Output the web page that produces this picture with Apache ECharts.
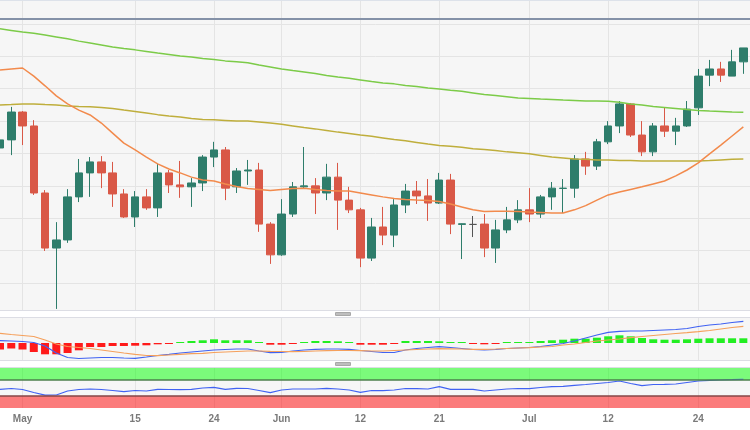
<!DOCTYPE html>
<html>
<head>
<meta charset="utf-8">
<title>Daily chart</title>
<script src="https://cdn.jsdelivr.net/npm/echarts@6/dist/echarts.min.js"></script>
<style>
  html, body { margin: 0; padding: 0; background: #fff; overflow: hidden; }
  #chart { width: 750px; height: 430px; }
</style>
</head>
<body>
<div id="chart"></div>
<script>
// trading days (last one is an empty slot on the right edge)
const dates = [
  '2023-04-27', '2023-04-28',
  '2023-05-01', '2023-05-02', '2023-05-03', '2023-05-04', '2023-05-05',
  '2023-05-08', '2023-05-09', '2023-05-10', '2023-05-11', '2023-05-12',
  '2023-05-15', '2023-05-16', '2023-05-17', '2023-05-18', '2023-05-19',
  '2023-05-22', '2023-05-23', '2023-05-24', '2023-05-25', '2023-05-26',
  '2023-05-29', '2023-05-30', '2023-05-31', '2023-06-01', '2023-06-02',
  '2023-06-05', '2023-06-06', '2023-06-07', '2023-06-08', '2023-06-09',
  '2023-06-12', '2023-06-13', '2023-06-14', '2023-06-15', '2023-06-16',
  '2023-06-19', '2023-06-20', '2023-06-21', '2023-06-22', '2023-06-23',
  '2023-06-26', '2023-06-27', '2023-06-28', '2023-06-29', '2023-06-30',
  '2023-07-03', '2023-07-04', '2023-07-05', '2023-07-06', '2023-07-07',
  '2023-07-10', '2023-07-11', '2023-07-12', '2023-07-13', '2023-07-14',
  '2023-07-17', '2023-07-18', '2023-07-19', '2023-07-20', '2023-07-21',
  '2023-07-24', '2023-07-25', '2023-07-26', '2023-07-27', '2023-07-28',
  '2023-07-31'
]

const tickDates = ['2023-05-01', '2023-05-15', '2023-05-24', '2023-06-01', '2023-06-12',
  '2023-06-21', '2023-07-03', '2023-07-12', '2023-07-24']
const tickLabels = ['May', '15', '24', 'Jun', '12', '21', 'Jul', '12', '24']

// [open, close, low, high]
const candles = [
  [105.17, 105.42, 105.02, 105.66], [105.42, 106.28, 104.95, 106.44],
  [106.28, 105.85, 105.26, 106.31], [105.85, 103.78, 103.72, 106.03],
  [103.78, 102.08, 101.99, 103.87], [102.08, 102.33, 100.20, 102.88],
  [102.33, 103.66, 102.24, 103.90], [103.66, 104.40, 103.50, 104.83],
  [104.40, 104.74, 103.66, 104.89], [104.74, 104.40, 103.93, 104.92],
  [104.40, 103.75, 103.35, 104.74], [103.75, 103.04, 103.01, 103.90],
  [103.04, 103.66, 102.73, 103.84], [103.66, 103.32, 103.26, 103.90],
  [103.32, 104.40, 103.04, 104.68], [104.40, 104.03, 103.78, 104.49],
  [104.03, 103.97, 103.63, 104.77], [103.97, 104.09, 103.35, 104.24],
  [104.09, 104.89, 103.84, 104.95], [104.89, 105.11, 104.58, 105.36],
  [105.11, 103.93, 103.56, 105.20], [103.97, 104.46, 103.78, 104.55],
  [104.46, 104.49, 104.03, 104.80], [104.49, 102.82, 102.58, 104.71],
  [102.82, 101.87, 101.59, 102.88], [101.87, 103.13, 101.84, 103.59],
  [103.13, 103.97, 103.04, 104.12], [103.97, 104.00, 103.93, 105.20],
  [104.00, 103.78, 103.13, 104.24], [103.78, 104.27, 103.56, 104.68],
  [104.27, 103.56, 102.64, 104.71], [103.56, 103.26, 103.16, 103.97],
  [103.26, 101.77, 101.49, 103.32], [101.77, 102.73, 101.68, 103.01],
  [102.73, 102.48, 102.17, 103.35], [102.48, 103.41, 102.11, 103.59],
  [103.41, 103.84, 103.16, 104.06], [103.84, 103.69, 103.44, 104.15],
  [103.69, 103.47, 102.92, 104.21], [103.47, 104.18, 103.44, 104.40],
  [104.18, 102.82, 102.51, 104.37], [102.81, 102.83, 101.74, 102.84],
  [102.81, 102.81, 102.42, 103.07], [102.82, 102.08, 101.80, 103.13],
  [102.08, 102.64, 101.62, 102.95], [102.64, 102.95, 102.54, 103.35],
  [102.95, 103.26, 102.85, 103.56], [103.26, 103.13, 102.88, 103.93],
  [103.13, 103.66, 103.01, 103.72], [103.66, 103.93, 103.26, 104.12],
  [103.92, 103.93, 103.16, 104.21], [103.93, 104.83, 103.63, 104.95],
  [104.83, 104.61, 104.34, 105.05], [104.61, 105.36, 104.49, 105.45],
  [105.36, 105.85, 105.29, 106.00], [105.85, 106.53, 105.63, 106.62],
  [106.53, 105.57, 105.51, 106.56], [105.57, 105.05, 104.92, 106.00],
  [105.05, 105.85, 104.92, 105.94], [105.85, 105.69, 105.51, 106.41],
  [105.69, 105.85, 105.26, 106.10], [105.85, 106.37, 105.82, 106.62],
  [106.41, 107.39, 106.19, 107.61], [107.42, 107.61, 107.08, 107.89],
  [107.61, 107.42, 107.21, 107.83], [107.39, 107.83, 107.39, 108.20],
  [107.83, 108.26, 107.46, 108.26]
]

const sma20 = [
  107.58, 107.61, 107.64, 107.39, 107.09, 106.78, 106.53, 106.34, 106.19, 105.94,
  105.63, 105.32, 105.11, 104.89, 104.68, 104.52, 104.40, 104.27, 104.18, 104.15,
  104.06, 103.98, 103.92, 103.89, 103.86, 103.89, 103.92, 103.93, 103.89, 103.86,
  103.84, 103.84, 103.78, 103.72, 103.66, 103.61, 103.58, 103.56, 103.55, 103.52,
  103.44, 103.35, 103.26, 103.21, 103.22, 103.22, 103.21, 103.19, 103.18, 103.16,
  103.16, 103.26, 103.39, 103.56, 103.72, 103.81, 103.89, 103.97, 104.06, 104.15,
  104.31, 104.49, 104.71, 104.99, 105.26, 105.54, 105.82
]

const sma100 = [
  106.50, 106.51, 106.53, 106.53, 106.51, 106.50, 106.47, 106.45, 106.44, 106.42,
  106.39, 106.34, 106.30, 106.25, 106.20, 106.16, 106.13, 106.08, 106.05, 106.04,
  106.02, 106.00, 106.00, 105.97, 105.94, 105.90, 105.85, 105.80, 105.76, 105.71,
  105.66, 105.62, 105.57, 105.53, 105.48, 105.43, 105.39, 105.34, 105.29, 105.25,
  105.22, 105.19, 105.15, 105.12, 105.09, 105.05, 105.02, 104.99, 104.94, 104.89,
  104.86, 104.83, 104.82, 104.80, 104.80, 104.78, 104.78, 104.77, 104.77, 104.77,
  104.77, 104.77, 104.77, 104.78, 104.80, 104.82, 104.83
]

const sma200 = [
  108.85, 108.80, 108.75, 108.71, 108.66, 108.60, 108.54, 108.47, 108.41, 108.35,
  108.29, 108.24, 108.20, 108.15, 108.10, 108.06, 108.01, 107.98, 107.93, 107.90,
  107.86, 107.83, 107.80, 107.73, 107.67, 107.61, 107.56, 107.52, 107.47, 107.41,
  107.36, 107.32, 107.27, 107.22, 107.18, 107.15, 107.10, 107.07, 107.02, 106.99,
  106.95, 106.92, 106.87, 106.82, 106.79, 106.75, 106.71, 106.70, 106.68, 106.67,
  106.65, 106.64, 106.62, 106.62, 106.61, 106.58, 106.53, 106.50, 106.45, 106.42,
  106.39, 106.36, 106.33, 106.31, 106.30, 106.28, 106.27
]

const alertLevel = 109.17
const priceMin = 100
const priceMax = 109.74

const macdLine = [
  0.023, 0.020, 0.015, 0.005, -0.030, -0.100, -0.145, -0.155, -0.150, -0.145,
  -0.145, -0.150, -0.153, -0.140, -0.125, -0.113, -0.100, -0.090, -0.080, -0.070,
  -0.065, -0.060, -0.060, -0.080, -0.097, -0.095, -0.080, -0.070, -0.063, -0.060,
  -0.060, -0.063, -0.075, -0.085, -0.095, -0.095, -0.070, -0.055, -0.045, -0.037,
  -0.045, -0.055, -0.065, -0.070, -0.065, -0.055, -0.050, -0.045, -0.035, -0.020,
  -0.005, 0.020, 0.050, 0.080, 0.107, 0.117, 0.120, 0.120, 0.125, 0.130,
  0.135, 0.145, 0.165, 0.180, 0.190, 0.205, 0.217
]

const signalLine = [
  0.097, 0.085, 0.075, 0.065, 0.030, -0.010, -0.035, -0.045, -0.055, -0.070,
  -0.085, -0.100, -0.113, -0.125, -0.127, -0.120, -0.113, -0.107, -0.103, -0.095,
  -0.090, -0.085, -0.080, -0.080, -0.083, -0.085, -0.087, -0.085, -0.080, -0.077,
  -0.075, -0.075, -0.077, -0.080, -0.080, -0.075, -0.070, -0.065, -0.060, -0.057,
  -0.058, -0.060, -0.063, -0.063, -0.060, -0.055, -0.050, -0.047, -0.040, -0.035,
  -0.020, -0.010, 0.005, 0.020, 0.030, 0.040, 0.053, 0.065, 0.075, 0.085,
  0.095, 0.103, 0.113, 0.125, 0.140, 0.155, 0.167
]

const macdHist = [
  -0.065, -0.055, -0.065, -0.090, -0.113, -0.113, -0.100, -0.073, -0.040, -0.040,
  -0.030, -0.030, -0.027, -0.023, -0.013, -0.003, 0.010, 0.020, 0.027, 0.037,
  0.027, 0.027, 0.027, 0.010, -0.017, -0.017, -0.003, 0.010, 0.020, 0.020,
  0.017, 0.010, -0.017, -0.017, -0.017, -0.003, 0.020, 0.020, 0.020, 0.017,
  0.010, 0.002, -0.003, -0.013, -0.007, 0.000, 0.003, 0.010, 0.020, 0.027,
  0.033, 0.043, 0.043, 0.053, 0.067, 0.077, 0.067, 0.050, 0.037, 0.033,
  0.033, 0.037, 0.043, 0.047, 0.047, 0.047, 0.047
]

const rsi = [
  46.75, 48.75, 46.25, 38.75, 32.0, 32.5, 42.5, 46.25, 47.5, 46.25,
  43.75, 40.75, 43.75, 42.5, 46.75, 46.25, 45.75, 46.75, 50.0, 51.75,
  46.75, 49.25, 48.75, 43.75, 38.25, 45.0, 47.5, 47.5, 47.5, 49.25,
  47.5, 45.0, 39.25, 43.75, 43.25, 45.0, 48.75, 48.25, 47.5, 53.25,
  46.75, 46.75, 46.75, 42.5, 45.0, 47.5, 48.75, 48.25, 51.25, 53.25,
  54.25, 56.75, 58.75, 61.25, 63.75, 67.5, 61.25, 55.75, 58.75, 59.25,
  60.0, 63.75, 67.5, 69.25, 70.0, 70.75, 71.75
]

const upColor = '#2e7d6b'
const downColor = '#d95847'
const panelBg = '#f6f6f6'
const gridColor = '#e4e4e4'

const isTick = (index, value) => tickDates.includes(value)

const chart = echarts.init(document.getElementById('chart'))

const hiddenX = (gridIndex) => ({
  type: 'category',
  gridIndex,
  data: dates,
  boundaryGap: false,
  axisLine: { show: false },
  axisTick: { show: false, interval: isTick },
  axisLabel: { show: false },
  splitLine: { show: true, interval: isTick, lineStyle: { color: gridColor, width: 1 } }
})

const lineSeries = (name, data, color, width, xi, yi) => ({
  name,
  type: 'line',
  data,
  xAxisIndex: xi,
  yAxisIndex: yi,
  symbol: 'none',
  silent: true,
  lineStyle: { color, width }
})

// the plot runs a few pixels past the right edge of the window
const paneGrid = (top, height) => ({
  left: 0,
  width: 754.6,
  top,
  height,
  show: true,
  backgroundColor: panelBg,
  borderWidth: 0,
  outerBoundsMode: 'none'
})

const option = {
  animation: false,
  backgroundColor: '#ffffff',
  grid: [paneGrid(0, 315.4), paneGrid(318, 42), paneGrid(368, 40)],
  xAxis: [
    hiddenX(0),
    hiddenX(1),
    {
      ...hiddenX(2),
      axisLabel: {
        show: true,
        interval: isTick,
        margin: 6,
        color: '#7a7a7a',
        fontSize: 10,
        fontWeight: 'bold',
        fontFamily: 'Liberation Sans, Arial, sans-serif',
        formatter: (value) => tickLabels[tickDates.indexOf(value)]
      }
    }
  ],
  yAxis: [
    {
      gridIndex: 0, min: priceMin, max: priceMax, interval: 1,
      axisLabel: { show: false }, axisLine: { show: false }, axisTick: { show: false },
      splitLine: { lineStyle: { color: gridColor } }
    },
    {
      gridIndex: 1, min: -0.17, max: 0.25,
      axisLabel: { show: false }, axisLine: { show: false }, axisTick: { show: false },
      splitLine: { show: false }
    },
    {
      gridIndex: 2, min: 0, max: 100,
      axisLabel: { show: false }, axisLine: { show: false }, axisTick: { show: false },
      splitLine: { show: false }
    }
  ],
  series: [
    {
      name: 'Price',
      type: 'candlestick',
      data: candles,
      xAxisIndex: 0,
      yAxisIndex: 0,
      barWidth: 8,
      silent: true,
      itemStyle: {
        color: upColor,
        color0: downColor,
        borderColor: upColor,
        borderColor0: downColor,
        borderColorDoji: '#555555',
        borderWidth: 1
      },
      markLine: {
        silent: true,
        symbol: 'none',
        label: { show: false },
        lineStyle: { color: '#8592a8', width: 2, type: 'solid' },
        data: [{ yAxis: alertLevel }]
      }
    },
    lineSeries('SMA 200', sma200, '#7ccb48', 1.5, 0, 0),
    lineSeries('SMA 100', sma100, '#bfae3c', 1.5, 0, 0),
    lineSeries('SMA 20', sma20, '#f28a4c', 1.5, 0, 0),
    {
      name: 'Histogram',
      type: 'bar',
      data: macdHist,
      xAxisIndex: 1,
      yAxisIndex: 1,
      barWidth: 8,
      barMinHeight: 1,
      silent: true,
      itemStyle: {
        color: (p) => (p.value >= 0 ? '#22ee22' : '#ff1a1a')
      }
    },
    lineSeries('MACD', macdLine, '#4062f2', 1.2, 1, 1),
    lineSeries('Signal', signalLine, '#f5a05c', 1.2, 1, 1),
    {
      ...lineSeries('RSI', rsi, '#4062f2', 1.2, 2, 2),
      markArea: {
        silent: true,
        data: [
          [{ yAxis: 70, itemStyle: { color: 'rgba(0, 255, 0, 0.5)' } }, { yAxis: 100 }],
          [{ yAxis: 0, itemStyle: { color: 'rgba(255, 0, 0, 0.5)' } }, { yAxis: 30 }]
        ]
      },
      markLine: {
        silent: true,
        symbol: 'none',
        label: { show: false },
        data: [
          { yAxis: 70, lineStyle: { color: '#4d7f4d', width: 1.5, type: 'solid' } },
          { yAxis: 30, lineStyle: { color: '#864646', width: 1.5, type: 'solid' } }
        ]
      }
    }
  ],
  graphic: [
    // top edge
    { type: 'rect', z: 100, shape: { x: 0, y: 0, width: 750, height: 1 }, style: { fill: '#dde2ea' } },
    // pane separators with drag handles
    { type: 'rect', z: 100, shape: { x: -1, y: 310.5, width: 752, height: 7 }, style: { fill: '#ffffff', stroke: '#dcdde4', lineWidth: 1 } },
    { type: 'rect', z: 101, shape: { x: 335, y: 312, width: 16, height: 4, r: 1 }, style: { fill: '#a8a8a8' } },
    { type: 'rect', z: 102, shape: { x: 336, y: 313.5, width: 14, height: 1 }, style: { fill: '#d4d4d4' } },
    { type: 'rect', z: 100, shape: { x: -1, y: 360.5, width: 752, height: 7 }, style: { fill: '#ffffff', stroke: '#dcdde4', lineWidth: 1 } },
    { type: 'rect', z: 101, shape: { x: 335, y: 362, width: 16, height: 4, r: 1 }, style: { fill: '#a8a8a8' } },
    { type: 'rect', z: 102, shape: { x: 336, y: 363.5, width: 14, height: 1 }, style: { fill: '#d4d4d4' } }
  ]
}

chart.setOption(option)
</script>
</body>
</html>
